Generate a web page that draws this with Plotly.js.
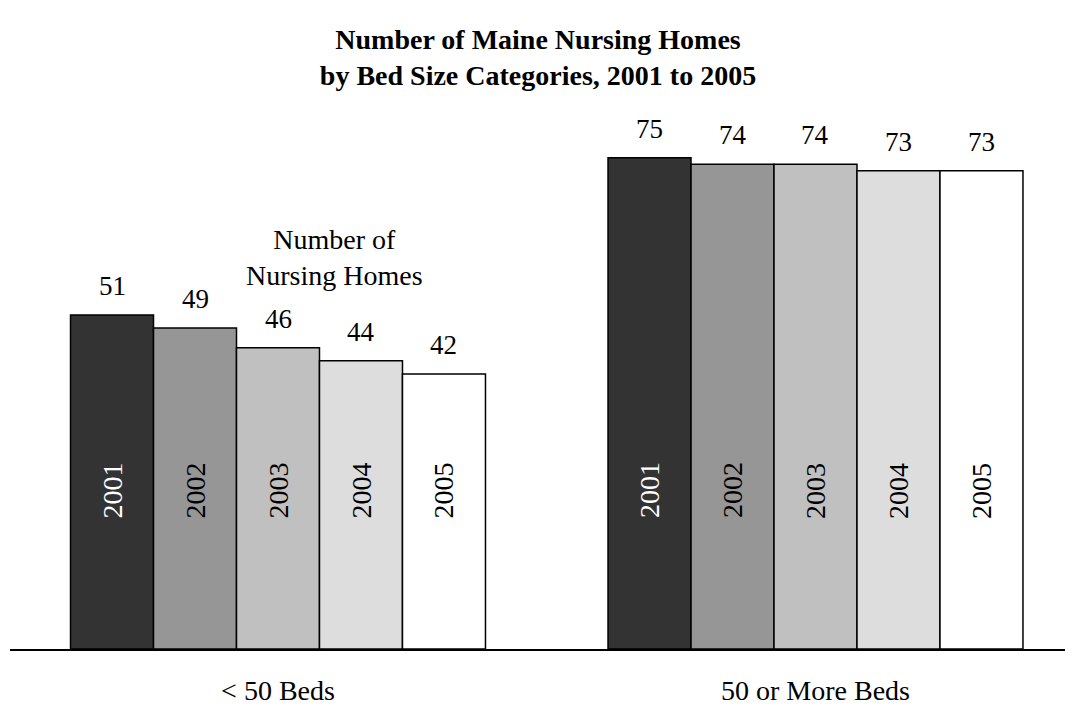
<!DOCTYPE html>
<html>
<head>
<meta charset="utf-8">
<script src="https://cdn.plot.ly/plotly-3.0.1.min.js"></script>
<style>html,body{margin:0;padding:0;background:#fff;}#chart{width:1076px;height:715px;}</style>
</head>
<body>
<div id="chart"></div>
<script>
const categories = ["< 50 Beds", "50 or More Beds"];
const years = ["2001", "2002", "2003", "2004", "2005"];
const values = {
  "2001": [51, 75],
  "2002": [49, 74],
  "2003": [46, 74],
  "2004": [44, 73],
  "2005": [42, 73]
};
const colors = ["#333333", "#969696", "#c0c0c0", "#dddddd", "#ffffff"];
const yearTextColors = ["#ffffff", "#000000", "#000000", "#000000", "#000000"];
const innerLabel = "Number of<br>Nursing Homes";

const FONT = '"Liberation Serif", "Times New Roman", serif';
const BARGAP = 0.228;
const nYears = years.length;
const barW = (1 - BARGAP) / nYears;
const xIdx = categories.map((c, i) => i);

const traces = years.map((yr, k) => ({
  type: "bar",
  name: yr,
  x: xIdx,
  y: values[yr],
  marker: {color: colors[k], line: {color: "#000", width: 1.5}},
  hoverinfo: "x+y+name"
}));

const annotations = [];
years.forEach((yr, k) => {
  const off = (k - (nYears - 1) / 2) * barW;
  values[yr].forEach((v, i) => {
    annotations.push({
      x: xIdx[i] + off, y: v, xref: "x", yref: "y",
      text: String(v), showarrow: false, yanchor: "middle", yshift: 29,
      font: {family: FONT, size: 27, color: "#000"}
    });
    annotations.push({
      x: xIdx[i] + off, y: 24.2, xref: "x", yref: "y",
      text: yr, showarrow: false, textangle: -90,
      font: {family: FONT, size: 28, color: yearTextColors[k]}
    });
  });
});
annotations.push({
  x: 0.106, y: 59.7, xref: "x", yref: "y", text: innerLabel, showarrow: false,
  font: {family: FONT, size: 28, color: "#000"}
});

const layout = {
  width: 1076, height: 715,
  paper_bgcolor: "#fff", plot_bgcolor: "#fff",
  margin: {l: 10, r: 11, t: 125, b: 66},
  showlegend: false,
  barmode: "group", bargap: BARGAP, bargroupgap: 0,
  title: {
    text: "<b>Number of Maine Nursing Homes<br>by Bed Size Categories, 2001 to 2005</b>",
    font: {family: FONT, size: 28, color: "#000"},
    x: 0.5, xanchor: "center", y: 1 - 49 / 715, yanchor: "top", yref: "container"
  },
  xaxis: {
    range: [-0.4986, 1.4642], tickmode: "array", tickvals: xIdx, ticktext: categories,
    showgrid: false, zeroline: false, showline: true, linecolor: "#000", linewidth: 2,
    ticks: "", ticklabelstandoff: 15,
    tickfont: {family: FONT, size: 28, color: "#000"}
  },
  yaxis: {range: [0, 80], visible: false, showgrid: false, zeroline: false},
  annotations: annotations
};

Plotly.newPlot("chart", traces, layout, {displayModeBar: false, staticPlot: true});
</script>
</body>
</html>
